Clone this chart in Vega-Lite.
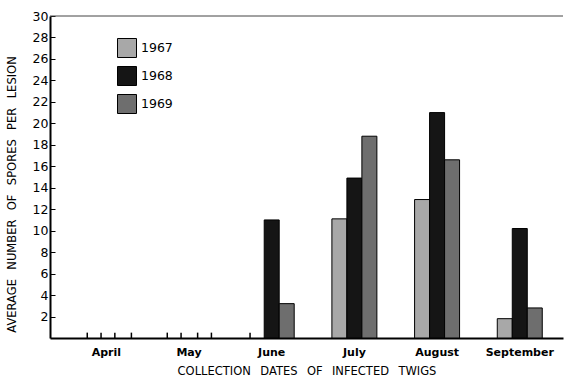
{
  "$schema": "https://vega.github.io/schema/vega-lite/v6.json",
  "width": 513,
  "height": 322,
  "autosize": {"type": "none"},
  "padding": {"left": 50, "top": 16, "right": 3, "bottom": 38},
  "config": {
    "view": {"stroke": null},
    "font": "DejaVu Sans"
  },
  "datasets": {
    "spores": [
      {"month": "June", "year": "1968", "spores": 11.0},
      {"month": "June", "year": "1969", "spores": 3.2},
      {"month": "July", "year": "1967", "spores": 11.1},
      {"month": "July", "year": "1968", "spores": 14.9},
      {"month": "July", "year": "1969", "spores": 18.8},
      {"month": "August", "year": "1967", "spores": 12.9},
      {"month": "August", "year": "1968", "spores": 21.0},
      {"month": "August", "year": "1969", "spores": 16.6},
      {"month": "September", "year": "1967", "spores": 1.8},
      {"month": "September", "year": "1968", "spores": 10.2},
      {"month": "September", "year": "1969", "spores": 2.8}
    ],
    "dates": [
      {"date": "1968-04-08T00:00:00"},
      {"date": "1968-04-13T00:00:00"},
      {"date": "1968-04-18T00:00:00"},
      {"date": "1968-04-24T00:00:00"},
      {"date": "1968-05-07T00:00:00"},
      {"date": "1968-05-12T00:00:00"},
      {"date": "1968-05-18T00:00:00"},
      {"date": "1968-05-23T00:00:00"},
      {"date": "1968-06-06T00:00:00"}
    ],
    "frame": [{"top": 30}]
  },
  "layer": [
    {
      "data": {"name": "spores"},
      "mark": {"type": "bar", "stroke": "black", "strokeWidth": 1},
      "encoding": {
        "x": {
          "field": "month",
          "type": "nominal",
          "sort": ["April", "May", "June", "July", "August", "September"],
          "scale": {
            "domain": ["April", "May", "June", "July", "August", "September"],
            "paddingInner": 0.456,
            "paddingOuter": 0.33,
            "align": 0.62
          },
          "axis": {
            "title": "COLLECTION\u2002 DATES\u2002 OF\u2002 INFECTED\u2002 TWIGS",
            "titleFontSize": 11.5,
            "titleFontWeight": "normal",
            "titleColor": "black",
            "titleY": 36,
            "titleBaseline": "alphabetic",
            "labelAngle": 0,
            "labelFontSize": 11,
            "labelFontWeight": "bold",
            "labelColor": "black",
            "labelPadding": 8,
            "ticks": false,
            "domainColor": "black",
            "domainWidth": 2
          }
        },
        "xOffset": {
          "field": "year",
          "type": "nominal",
          "scale": {"domain": ["1967", "1968", "1969"], "paddingInner": 0, "paddingOuter": 0}
        },
        "y": {
          "field": "spores",
          "type": "quantitative",
          "scale": {"domain": [0, 30], "nice": false},
          "axis": {
            "title": "AVERAGE\u2002 NUMBER\u2002 OF\u2002 SPORES\u2002 PER\u2002 LESION",
            "titleFontSize": 11.5,
            "titleFontWeight": "normal",
            "titleColor": "black",
            "titleX": -38,
            "titleY": 178,
            "titleAngle": -90,
            "titleAlign": "center",
            "titleBaseline": "middle",
            "values": [2, 4, 6, 8, 10, 12, 14, 16, 18, 20, 22, 24, 26, 28, 30],
            "tickCount": 20,
            "labelOverlap": false,
            "labelFontSize": 12.5,
            "labelColor": "black",
            "labelPadding": 7,
            "tickSize": -5,
            "tickColor": "black",
            "tickWidth": 1,
            "domainColor": "black",
            "domainWidth": 2,
            "grid": false
          }
        },
        "fill": {
          "field": "year",
          "type": "nominal",
          "scale": {"domain": ["1967", "1968", "1969"], "range": ["#a8a8a8", "#151515", "#6e6e6e"]},
          "legend": {
            "orient": "none",
            "legendX": 67,
            "legendY": 22,
            "title": null,
            "symbolType": "square",
            "symbolSize": 361,
            "symbolStrokeColor": "black",
            "symbolStrokeWidth": 1,
            "symbolOpacity": 1,
            "labelFontSize": 12.5,
            "labelColor": "black",
            "labelOffset": 4,
            "rowPadding": 4
          }
        }
      }
    },
    {
      "data": {"name": "frame"},
      "mark": {"type": "rule", "color": "#444444", "strokeWidth": 1},
      "encoding": {"y": {"field": "top", "type": "quantitative"}}
    },
    {
      "data": {"name": "dates"},
      "mark": {"type": "rule", "color": "black", "strokeWidth": 1.5},
      "encoding": {
        "x": {
          "field": "date",
          "type": "temporal",
          "scale": {"domain": [{"year": 1968, "month": 3, "date": 25, "hours": 12}, {"year": 1968, "month": 9, "date": 27, "hours": 10}]},
          "axis": null
        },
        "y": {"datum": 0},
        "y2": {"datum": 0.5}
      }
    }
  ],
  "resolve": {"scale": {"x": "independent"}}
}
